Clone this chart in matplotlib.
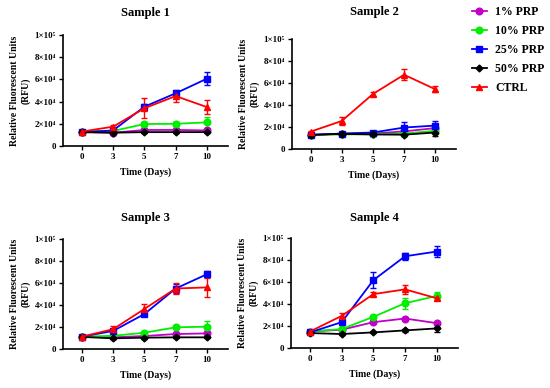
import matplotlib
matplotlib.use("Agg")
import matplotlib.pyplot as plt
from matplotlib.lines import Line2D
import numpy as np

plt.rcParams['font.family'] = ['Liberation Serif', 'DejaVu Serif']
plt.rcParams['font.weight'] = 'bold'

days = ["0", "3", "5", "7", "10"]
series_names = ["1% PRP", "10% PRP", "25% PRP", "50% PRP", "CTRL"]
colors = ["#C000C8", "#00EE00", "#0000FF", "#000000", "#FF0000"]
markers = ["o", "o", "s", "D", "^"]

# Sample 1
s1_vals = {
    "1% PRP":  [12500, 12000, 14400, 14500, 14000],
    "10% PRP": [13000, 13500, 19800, 20000, 21300],
    "25% PRP": [12500, 14000, 35400, 47500, 60700],
    "50% PRP": [12500, 12000, 12500, 12500, 12500],
    "CTRL":    [13000, 17400, 34000, 45000, 35000],
}
s1_err = {
    "1% PRP":  [800, 800, 1000, 1000, 1000],
    "10% PRP": [800, 800, 1500, 2000, 5000],
    "25% PRP": [800, 800, 2000, 2500, 6000],
    "50% PRP": [800, 800, 800, 800, 800],
    "CTRL":    [800, 1500, 9000, 5500, 6000],
}
# Sample 2
s2_vals = {
    "1% PRP":  [12800, 14000, 14000, 16000, 19000],
    "10% PRP": [12800, 13200, 13500, 14000, 16500],
    "25% PRP": [12800, 14000, 15000, 19500, 21300],
    "50% PRP": [12800, 13800, 13200, 13000, 15000],
    "CTRL":    [15800, 25500, 50000, 67500, 54400],
}
s2_err = {
    "1% PRP":  [800, 800, 800, 1500, 2000],
    "10% PRP": [800, 800, 800, 1000, 2000],
    "25% PRP": [800, 800, 1500, 5000, 4000],
    "50% PRP": [800, 800, 800, 1500, 3000],
    "CTRL":    [1000, 3500, 2000, 5000, 3000],
}
# Sample 3
s3_vals = {
    "1% PRP":  [11000, 10600, 11800, 13600, 14200],
    "10% PRP": [11200, 12000, 14800, 19700, 20300],
    "25% PRP": [11200, 16400, 31800, 55000, 68000],
    "50% PRP": [11000, 9700, 10300, 10600, 10600],
    "CTRL":    [11200, 18000, 36400, 55000, 56000],
}
s3_err = {
    "1% PRP":  [800, 800, 1000, 1000, 1000],
    "10% PRP": [800, 800, 1000, 1500, 5000],
    "25% PRP": [800, 1500, 2000, 4000, 2500],
    "50% PRP": [800, 800, 800, 800, 800],
    "CTRL":    [800, 3000, 4500, 5000, 9000],
}
# Sample 4
s4_vals = {
    "1% PRP":  [15000, 16600, 23500, 26800, 22600],
    "10% PRP": [15000, 17200, 28300, 40700, 47300],
    "25% PRP": [14200, 23500, 61700, 83400, 87700],
    "50% PRP": [13600, 12700, 14200, 16000, 17800],
    "CTRL":    [15000, 29200, 49000, 53300, 45200],
}
s4_err = {
    "1% PRP":  [800, 800, 1200, 1500, 1200],
    "10% PRP": [800, 800, 1500, 5000, 4000],
    "25% PRP": [800, 1500, 7500, 3000, 5000],
    "50% PRP": [800, 800, 800, 1500, 3000],
    "CTRL":    [800, 2500, 2000, 4000, 2000],
}

titles = ["Sample 1", "Sample 2", "Sample 3", "Sample 4"]
all_vals = [s1_vals, s2_vals, s3_vals, s4_vals]
all_errs = [s1_err, s2_err, s3_err, s4_err]
yticks = [0, 20000, 40000, 60000, 80000, 100000]
ytick_labels = ["0", "2×10⁴", "4×10⁴", "6×10⁴", "8×10⁴", "1×10⁵"]

fig = plt.figure(figsize=(5.5, 3.88), dpi=100)
W, H = 550, 388
boxes = [(63, 35, 228, 146), (292, 39, 456, 149), (63, 239, 228, 349), (291, 238, 458, 348)]
title_pads = [14, 17, 13.3, 12.6]

def msize(m):
    return 3.5 if m == "D" else 4.8

for i, (l, t, r, b) in enumerate(boxes):
    ax = fig.add_axes([l / W, 1 - b / H, (r - l) / W, (b - t) / H])
    x = np.arange(len(days))
    for j, name in enumerate(series_names):
        ax.errorbar(x, all_vals[i][name], yerr=all_errs[i][name], color=colors[j],
                    marker=markers[j], markersize=msize(markers[j]),
                    linewidth=1.3, elinewidth=1.0, capsize=2.2, capthick=1.0,
                    label=name, clip_on=False)
    ax.set_xlim(-0.6, 4.67)
    ax.set_ylim(0, 100000)
    ax.set_xticks(x)
    ax.set_xticklabels(days, fontsize=6.5, fontweight='bold')
    ax.set_yticks(yticks)
    ax.set_yticklabels(ytick_labels, fontsize=6.5, fontweight='bold')
    for s in ["top", "right"]:
        ax.spines[s].set_visible(False)
    for s in ["left", "bottom"]:
        ax.spines[s].set_linewidth(1.2)
    ax.tick_params(width=1.0, length=3, pad=2)
    ax.set_title(titles[i], fontsize=9, fontweight='bold', pad=title_pads[i])
    ax.set_xlabel("Time (Days)", fontsize=7, fontweight='bold', labelpad=5)
    ax.set_ylabel("Relative Fluorescent Units\n(RFU)", fontsize=7, fontweight='bold', labelpad=3)

handles = [Line2D([0], [0], color=colors[j], marker=markers[j], markersize=msize(markers[j]),
                  linewidth=1.3) for j in range(len(series_names))]
fig.legend(handles, series_names, loc="upper left", bbox_to_anchor=(467 / W, 1 - 1 / H),
           frameon=False, prop={'weight': 'bold', 'size': 8.5}, handlelength=1.3,
           labelspacing=0.6, handletextpad=0.7, borderaxespad=0)

fig.savefig("out.png", dpi=100)
